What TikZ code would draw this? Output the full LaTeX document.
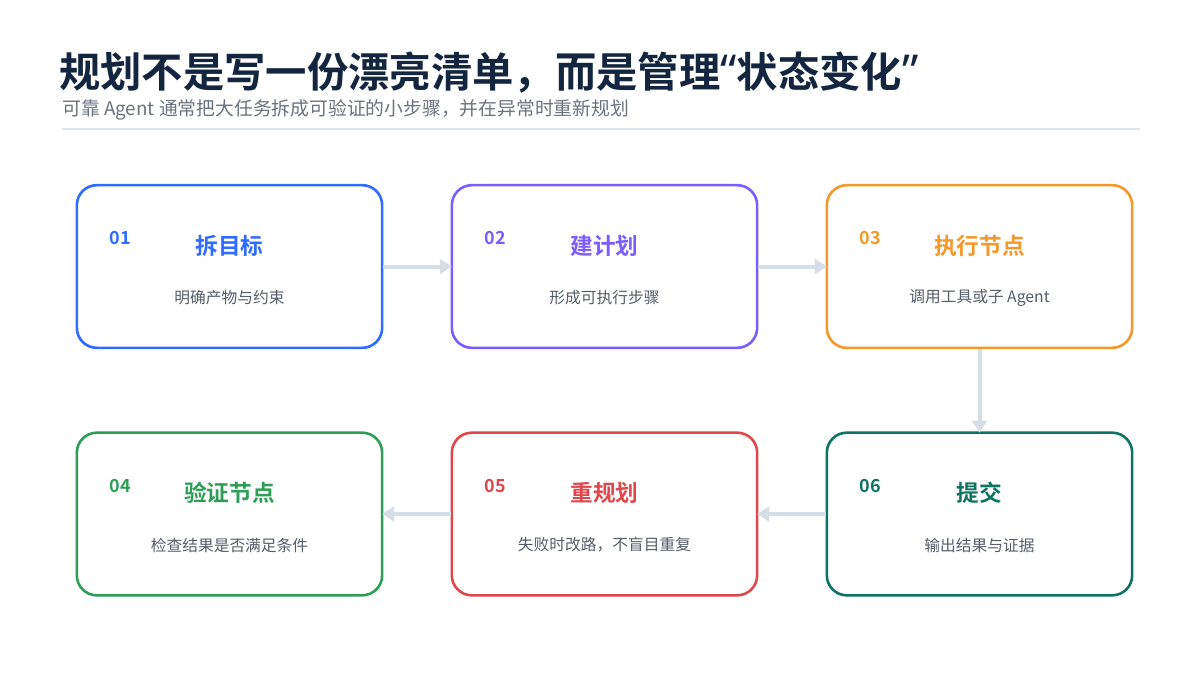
\documentclass[tikz,border=0pt]{standalone}
\usepackage{fontspec}
\setmainfont{Noto Sans CJK SC}
\newfontfamily\cjkb{Noto Sans CJK SC Bold}
\newfontfamily\latb{Noto Sans}
\usetikzlibrary{arrows.meta}
\definecolor{navy}{HTML}{14263F}
\definecolor{subgray}{HTML}{6B7280}
\definecolor{rulegray}{HTML}{DDE3EA}
\definecolor{arrowgray}{HTML}{D5DDE6}
\definecolor{cblue}{HTML}{2F6BFF}
\definecolor{cpurple}{HTML}{7B5CFF}
\definecolor{corange}{HTML}{F5982A}
\definecolor{cgreen}{HTML}{2E9E57}
\definecolor{cred}{HTML}{E0474C}
\definecolor{cteal}{HTML}{0F7363}
\definecolor{desc}{HTML}{555D6B}
\tikzset{
  card/.style={draw=#1, line width=2.6pt*0.75, rounded corners=15pt, minimum width=229pt, minimum height=122pt, inner sep=0pt, fill=white},
  numtxt/.style={text=#1, font=\cjkb\fontsize{13.5pt}{15pt}\selectfont, inner sep=0pt},
  headtxt/.style={text=#1, font=\cjkb\fontsize{17pt}{19pt}\selectfont, inner sep=0pt},
  desctxt/.style={text=desc, font=\fontsize{11.8pt}{14pt}\selectfont, inner sep=0pt},
  flow/.style={draw=arrowgray, line width=3pt, -{Triangle[length=9pt,width=11pt]}, shorten >=-1pt}
}
\begin{document}
\begin{tikzpicture}[x=0.75pt,y=-0.75pt]
\useasboundingbox (0,0) rectangle (1200,675);
\fill[white] (0,0) rectangle (1200,675);
\node[anchor=base west, inner sep=0pt, text=navy, font=\cjkb\fontsize{31pt}{36pt}\selectfont] (title) at (59,87) {规划不是写一份漂亮清单，而是管理{\latb\bfseries\fontsize{34pt}{36pt}\selectfont“}状态变化{\latb\bfseries\fontsize{34pt}{36pt}\selectfont”}};
\node[anchor=base west, inner sep=0pt, text=subgray, font=\fontsize{14.1pt}{16pt}\selectfont] (sub) at (62,115) {可靠 Agent 通常把大任务拆成可验证的小步骤，并在异常时重新规划};
\draw[rulegray, line width=1.5pt] (62,128.5) -- (1140,128.5);

% cards
\foreach \n/\cx/\cy/\col/\num/\head/\dsc in {
  a/229.5/266.5/cblue/01/拆目标/明确产物与约束,
  b/604.5/266.5/cpurple/02/建计划/形成可执行步骤,
  c/979.5/266.5/corange/03/执行节点/调用工具或子 Agent,
  d/229.5/514/cgreen/04/验证节点/检查结果是否满足条件,
  e/604.5/514/cred/05/重规划/失败时改路，不盲目重复,
  f/979.5/514/cteal/06/提交/输出结果与证据}{
  \node[card=\col] (\n) at (\cx,\cy) {};
  \node[numtxt=\col] (\n num) at (\cx-109,\cy-28) {\num};
  \node[headtxt=\col] (\n head) at (\cx,\cy-21) {\head};
  \node[desctxt] (\n desc) at (\cx,\cy+31) {\dsc};
}
\draw[flow] (a.east) -- (b.west);
\draw[flow] (b.east) -- (c.west);
\draw[flow] (c.south) -- (f.north);
\draw[flow] (f.west) -- (e.east);
\draw[flow] (e.west) -- (d.east);
\end{tikzpicture}
\end{document}
